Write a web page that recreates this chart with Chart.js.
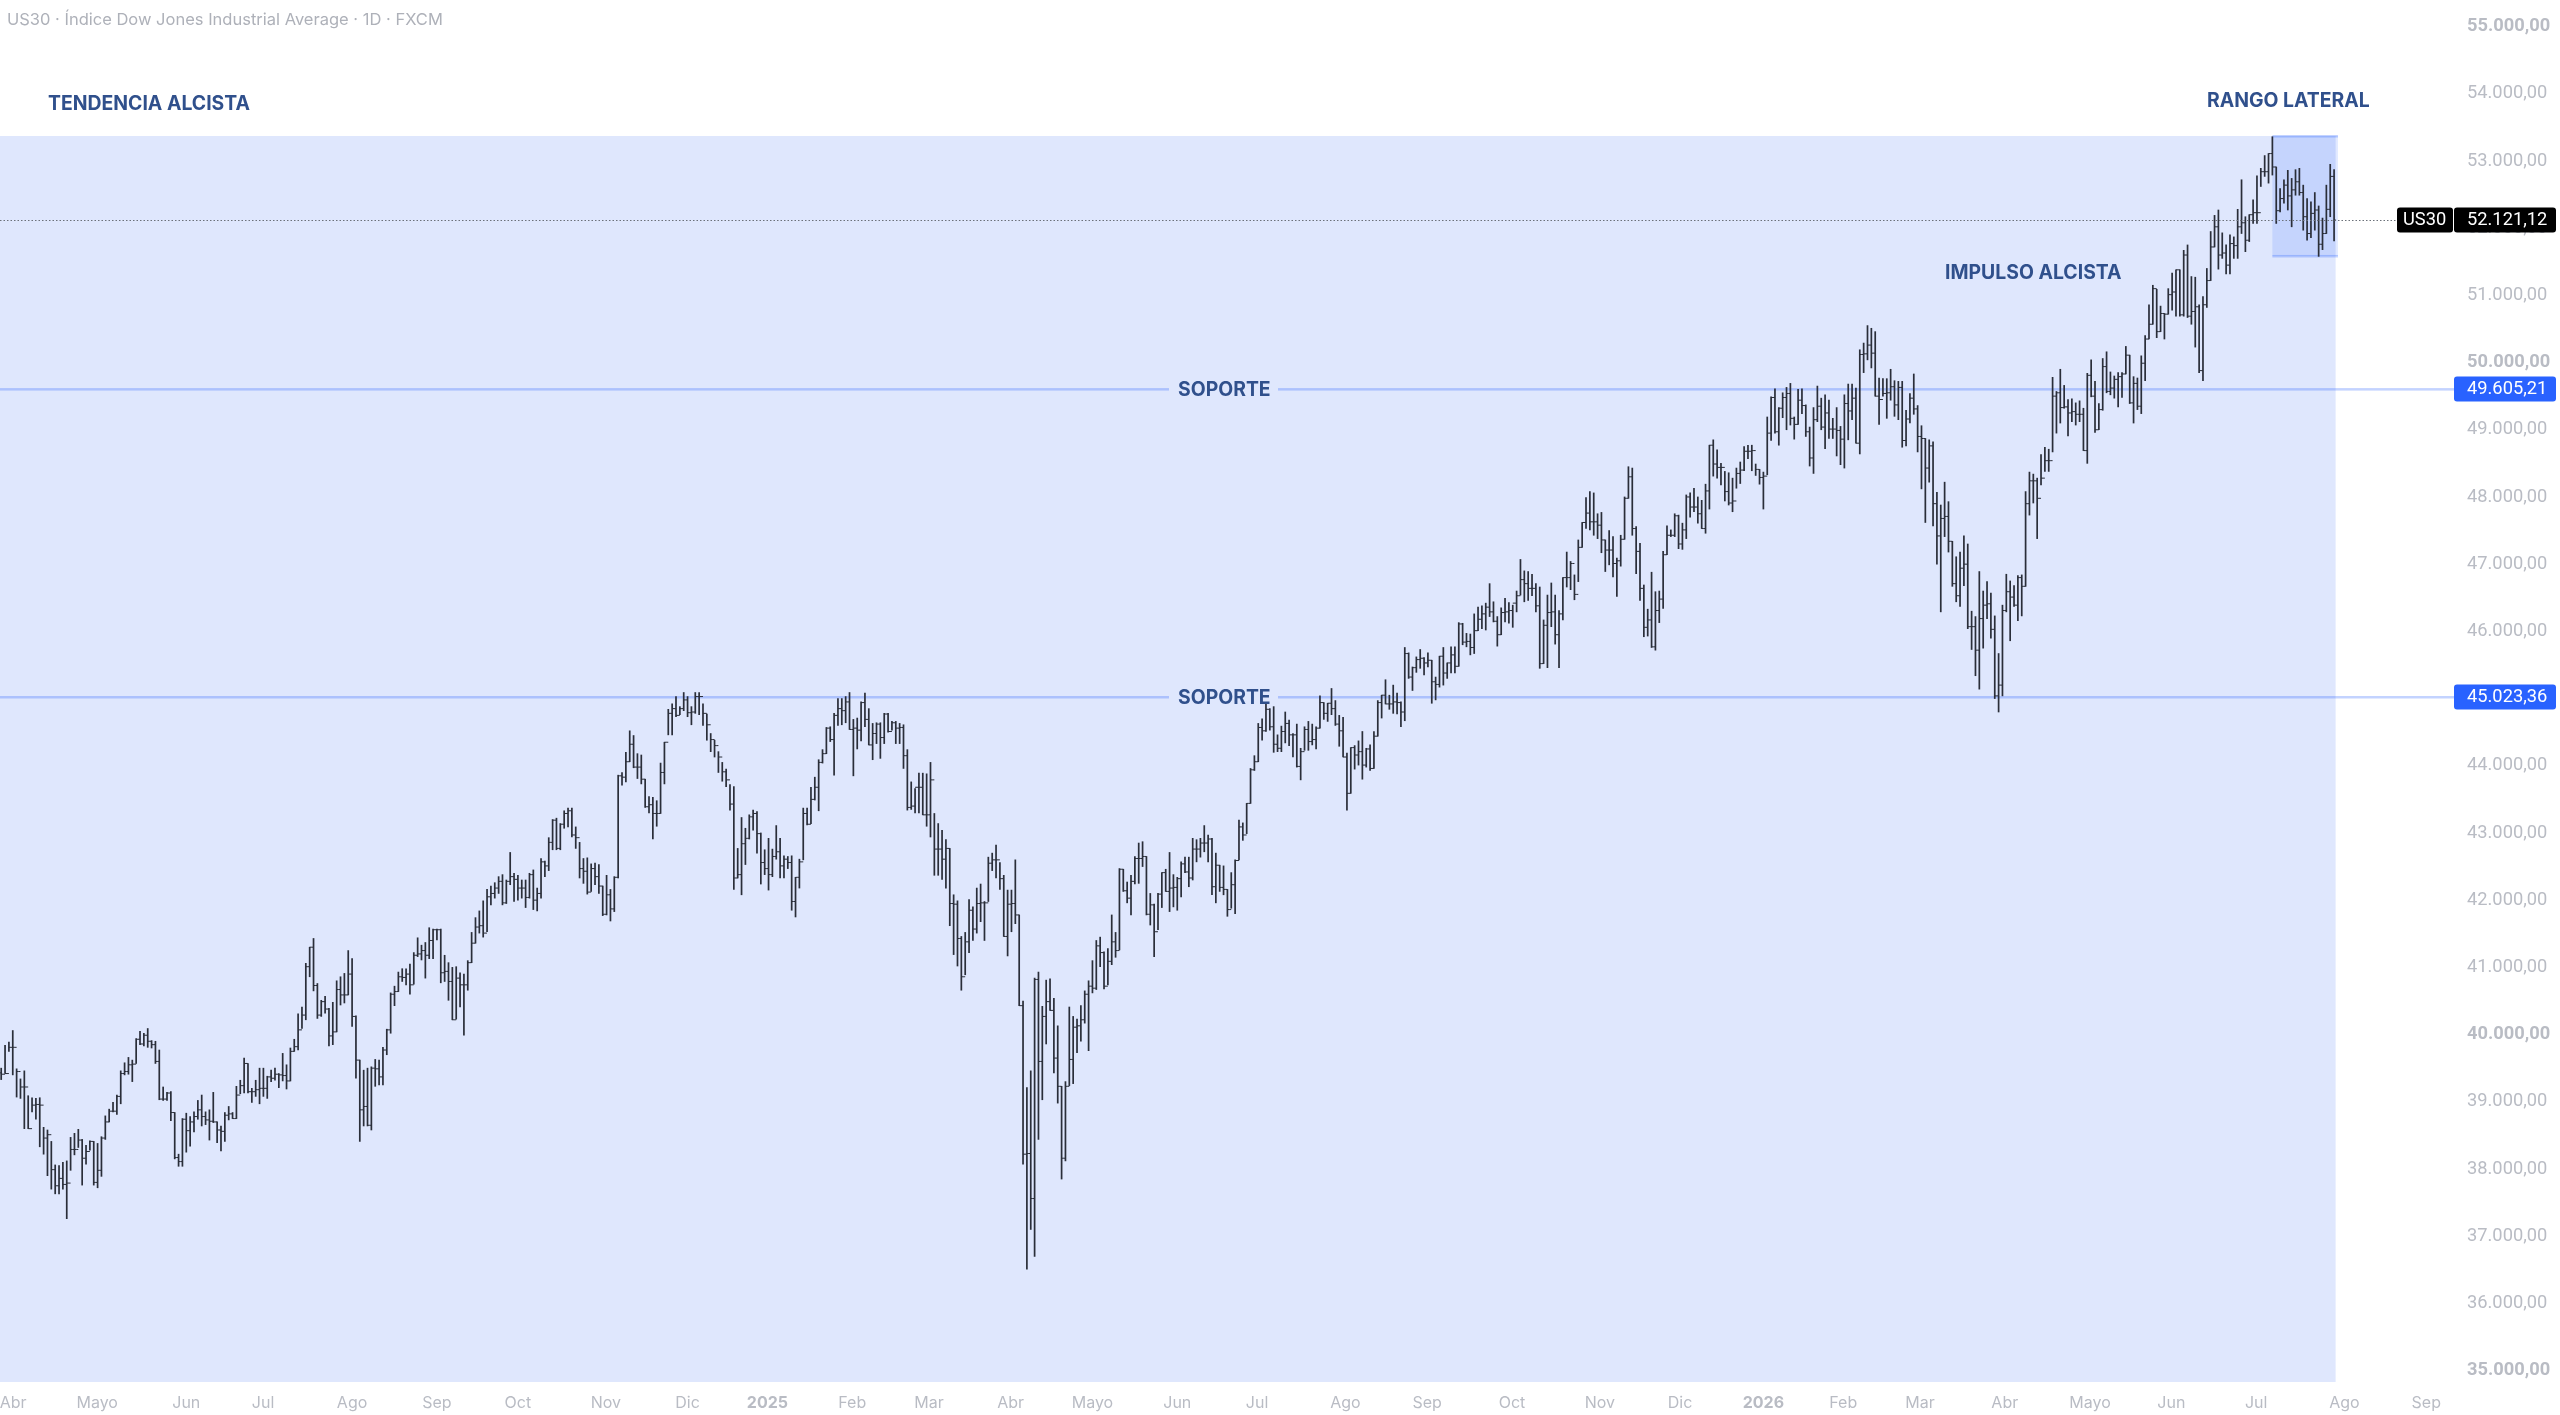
<!DOCTYPE html>
<html>
<head>
<meta charset="utf-8">
<title>US30</title>
<script src="https://cdn.jsdelivr.net/npm/chart.js@4"></script>
<style>
html, body { margin: 0; padding: 0; background: #fff; }
canvas { display: block; }
</style>
</head>
<body>
<canvas id="us30Chart" width="2560" height="1415"></canvas>
<script>
// daily bars
var highs = [
39500,39840,39890,40060,39490,39340,39460,39090,39060,39050,
39060,38620,38580,38410,38060,38050,38100,38120,38470,38530,
38590,38440,38350,38420,38410,38380,38480,38790,38890,38990,
39100,39460,39580,39660,39620,39940,40050,40020,40090,39910,
39900,39770,39220,39140,39150,38840,38220,38750,38830,38780,
38850,39020,39100,38850,38880,39140,38700,38640,38840,38930,
38840,39230,39320,39650,39570,39200,39320,39500,39500,39380,
39470,39500,39420,39720,39550,39800,39930,40310,40410,41060,
41300,41430,40760,40510,40570,40390,40480,40800,40860,40910,
41250,41130,40280,39620,39470,39500,39520,39630,39620,39810,
40080,40620,40720,40930,40980,40980,41050,41220,41440,41330,
41370,41590,41570,41570,41570,41180,41070,41000,41010,40920,
40900,41100,41520,41740,41840,41990,42160,42210,42260,42350,
42380,42300,42710,42400,42370,42300,42300,42400,42450,42180,
42620,42580,42930,43200,43220,43140,43330,43370,43370,43090,
42860,42620,42630,42540,42550,42530,42210,42370,42160,42350,
43860,43900,44200,44520,44450,44180,44160,43800,43540,43530,
43480,44040,44350,44840,44920,45030,44880,45090,45030,44880,
45090,45090,44920,44770,44480,44380,44210,44050,43950,43720,
43690,42770,43230,43070,43270,43340,43320,43000,42750,42920,
42760,43110,42920,42660,42650,42660,42340,42610,43370,43370,
43680,43830,44090,44240,44570,44580,44780,45000,45000,45030,
45090,44690,44710,44950,45080,44850,44630,44640,44640,44780,
44780,44660,44660,44630,44610,44240,43760,43660,43890,43890,
43880,44050,43290,43140,43040,42900,42770,42080,41990,41460,
41520,42010,41900,42180,42240,41980,42640,42700,42820,42560,
42370,42150,42150,42600,41780,40500,39210,39460,40840,40930,
40420,40810,40830,40540,40130,39230,39300,40410,40270,40230,
40430,40650,40800,41100,41400,41450,41230,41280,41780,41520,
42470,42460,42270,42370,42650,42850,42870,42650,42100,41940,
42100,42410,42460,42710,42380,42340,42570,42640,42640,42920,
42900,42920,43110,42970,42920,42700,42520,42510,42160,42410,
42600,43190,43150,43440,43960,44150,44630,44700,44920,44850,
44880,44460,44590,44800,44680,44480,44620,44260,44580,44660,
44620,44580,45040,44940,44930,45150,44970,44750,44720,44190,
44270,44300,44370,44510,44260,44310,44510,44970,45050,45280,
45050,45200,45080,44950,45760,45680,45470,45620,45730,45610,
45680,45570,45320,45630,45760,45530,45770,45770,46130,46120,
45970,45960,46260,46360,46380,46420,46710,46440,46220,46350,
46490,46430,46390,46600,47070,46900,46890,46850,46710,46660,
46170,46540,46720,46540,46310,46800,47180,47040,46840,47360,
47620,47990,48080,48060,47750,47770,47360,47500,47410,47090,
47430,48000,48450,48430,47560,47310,46690,46330,46880,46590,
46600,47190,47570,47510,47750,47730,47610,48030,48060,48130,
48000,47950,48190,48770,48850,48700,48500,48380,48360,48280,
48430,48520,48750,48770,48770,48490,48410,48370,49190,49490,
49610,49330,49550,49630,49690,49190,49600,49610,49370,49040,
49330,49650,49470,49520,49440,49170,49330,49050,49520,49680,
49680,49620,50190,50290,50550,50510,50460,49770,49760,49760,
49900,49730,49720,49720,49290,49540,49830,49360,49060,48870,
48850,48820,48070,47880,48220,47930,47340,47110,47180,47420,
47300,46300,46220,46890,46600,46740,46570,46230,45670,46390,
46850,46750,46680,46830,46840,48080,48370,48340,48280,48630,
48740,48710,49780,49570,49900,49660,49450,49460,49400,49430,
49320,49840,50040,49720,49390,50060,50160,49860,49800,49850,
49850,50240,50110,49790,49770,50100,50400,50860,51150,51090,
50840,50730,51100,51330,51380,51380,51670,51750,51280,51270,
50860,50980,51400,51950,52190,52270,51930,51750,51900,51870,
52280,52720,52170,52200,52420,52780,52890,53080,53110,53360,
52910,52590,52720,52860,52740,52870,52890,52640,52440,52390,
52530,52330,52150,52640,52950,52870
];
var lows = [
39330,39420,39750,39400,39070,39050,38600,38600,38850,38740,
38330,38220,37900,37700,37630,37630,37700,37260,37980,38210,
38320,37760,38070,38280,37760,37720,37890,38440,38700,38850,
38810,38970,39400,39410,39300,39570,39850,39830,39810,39800,
39570,39030,39020,39020,38720,38150,38040,38040,38250,38340,
38550,38740,38640,38660,38430,38690,38390,38270,38410,38730,
38750,38750,39120,39130,39130,38990,39080,38970,39080,39050,
39300,39320,39210,39310,39190,39310,39750,39770,40090,40220,
40860,40650,40240,40270,40320,39830,39850,40040,40440,40470,
40590,40120,39350,38410,38640,38640,38580,39230,39250,39250,
39700,40020,40430,40640,40790,40740,40600,40750,41160,41110,
40840,41130,41130,41410,40770,40790,40510,40220,40230,40410,
39990,40660,41070,41360,41510,41450,41530,41930,42030,42100,
41930,41950,42230,41980,42000,42030,41890,42030,41860,41840,
42030,42350,42440,42750,42750,42750,43070,43090,42940,42770,
42330,42250,42090,42130,42230,42100,41770,41780,41690,41830,
42330,43710,43760,44060,43970,43810,43730,43380,43300,42910,
43100,43290,43730,44460,44460,44730,44760,44820,44730,44610,
44780,44760,44600,44380,44210,44130,43900,43770,43690,43340,
42160,42330,42080,42530,42910,43040,42700,42240,42380,42150,
42350,42610,42330,42330,42470,41850,41750,42180,42600,43120,
43140,43490,43330,44040,44180,44360,43860,44600,44610,44640,
44540,43850,44250,44370,44580,44310,44090,44330,44110,44330,
44500,44530,44330,44330,43960,43340,43350,43300,43300,43270,
43100,42940,42370,42370,42310,42180,41620,41190,41020,40660,
40890,41220,41400,41510,41680,41400,41980,42440,42330,42160,
41460,41170,41530,41650,40430,38070,36510,37100,36700,38440,
39030,39860,40360,39430,38980,37850,38120,39240,39270,39730,
39900,40170,39760,40620,40670,41010,40680,40740,41040,41150,
41260,42130,41960,41780,42240,42250,42500,41780,41630,41160,
41560,41890,42130,41830,41900,41850,42050,42410,42200,42300,
42570,42640,42720,42570,42080,41960,42130,42080,41760,41880,
41800,42600,42890,42990,43440,43930,44060,44380,44510,44530,
44200,44210,44210,44340,44300,44130,43980,43790,44230,44230,
44310,44250,44560,44690,44660,44760,44600,44290,44130,43340,
43590,43950,44010,43800,43980,43930,43960,44440,44710,44920,
44840,44780,44770,44580,44670,45300,45120,45390,45450,45350,
45470,44930,44980,45170,45200,45300,45380,45380,45480,45800,
45770,45650,45670,46010,46040,46020,46220,46140,45780,45950,
46140,46120,46060,46290,46540,46440,46460,46530,46290,45450,
45520,45460,46070,45810,45460,46170,46660,46620,46470,46740,
47250,47530,47510,47430,47380,47170,46890,46990,46810,46520,
46970,47370,47980,47430,46860,46460,45920,45930,45760,45720,
46130,46340,47140,47410,47410,47230,47220,47380,47700,47780,
47610,47530,47460,47820,48310,48280,48180,47940,47880,47780,
48130,48200,48390,48570,48390,48320,48190,47820,48330,48840,
48950,48770,49180,49000,49070,48860,49080,49240,48900,48460,
48350,49120,49000,48720,48870,48870,48610,48480,48430,48850,
49150,48800,48640,49850,50040,49920,49500,49080,49500,49170,
49440,49200,49150,48740,48760,49100,49230,48670,48120,47620,
48220,47570,47000,46290,47410,47180,46670,46440,46370,46680,
46040,45730,45340,45140,45750,46190,45900,45000,44800,45040,
46290,45860,46370,46160,46230,46670,47730,47910,47380,48180,
48380,48380,48670,48950,49100,49320,48910,49120,49070,49120,
48690,48500,49490,48960,49000,49290,49550,49520,49470,49340,
49480,49830,49390,49100,49300,49240,49730,50350,50570,50370,
50460,50350,50720,50780,50690,50690,50690,50670,50570,50230,
49850,49730,50820,51220,51720,51390,51550,51320,51320,51550,
51550,51920,51650,51800,52070,52070,52620,52770,52670,52790,
52070,52240,52370,52270,52020,52490,52490,51970,51820,51860,
51970,51580,51680,51920,52170,51810
];
var closes = [
39410,39420,39810,39810,39450,39220,39220,38600,38950,38960,
38950,38460,38510,37990,37750,37860,37770,37790,38290,38290,
38430,38160,38260,38410,37800,37980,38460,38700,38860,38860,
39080,39420,39450,39550,39560,39930,39860,39990,39900,39850,
39600,39040,39040,39130,38840,38170,38110,38740,38570,38700,
38780,38880,38780,38730,38710,38700,38580,38560,38800,38820,
38750,39100,39240,39570,39150,39150,39180,39200,39200,39370,
39350,39410,39400,39390,39310,39750,39820,40070,40290,41010,
41300,40730,40290,40490,40380,39980,40040,40670,40590,40590,
40900,40270,39620,38880,38930,38650,39500,39490,39370,39770,
40070,40600,40640,40860,40850,40900,40740,41180,41200,41250,
41180,41400,41560,41560,40920,40940,40790,40220,40840,40740,
40740,41070,41360,41600,41620,41510,42050,42100,42180,42280,
41960,42280,42350,42310,42180,42180,42040,42380,42000,42100,
42570,42510,42860,43190,42770,43130,43290,43330,42970,42930,
42470,42430,42120,42470,42350,42210,41790,42080,41870,42340,
43850,43830,44060,44320,43980,43980,43800,43390,43420,43290,
43290,43900,44350,44780,44850,44750,44850,44980,44790,44800,
45030,45030,44780,44610,44390,44300,44130,43910,43790,43430,
42330,42380,42840,42920,43240,43290,42990,42560,42470,42380,
42650,42720,42510,42610,42560,41980,42340,42570,43290,43130,
43500,43680,44050,44180,44560,44390,44750,44850,44820,44950,
44540,44560,44530,44940,44690,44310,44480,44620,44420,44770,
44510,44640,44560,44570,44150,43380,43400,43680,43680,43270,
43270,43790,42760,42760,42610,42770,41950,41940,41430,40860,
41380,41850,41570,41950,41960,41960,42550,42600,42600,42320,
41460,41940,41950,41780,40430,38220,38230,37560,40820,39600,
40270,40490,40360,39650,39230,38160,39230,39630,40110,40130,
40220,40600,40720,40690,41320,41220,40720,41090,41380,41250,
42460,42140,42030,42280,42620,42620,42650,41790,41930,41530,
42090,42410,42130,42180,42190,42320,42540,42420,42330,42760,
42760,42850,42850,42910,42200,42520,42190,42160,41860,42230,
42590,43090,42970,43440,43940,44060,44570,44520,44840,44580,
44320,44260,44510,44630,44460,44460,43990,44210,44540,44360,
44390,44560,44940,44780,44930,44850,44620,44520,44130,43590,
44270,44160,44210,44010,44250,43960,44440,44940,45050,44920,
44920,44950,44940,44800,45670,45320,45460,45580,45600,45530,
45570,45250,45210,45630,45380,45530,45650,45480,46110,45840,
45850,45760,46010,46180,46260,46360,46290,46150,45950,46280,
46290,46310,46420,46530,46770,46710,46640,46640,46380,45520,
46090,46280,46290,45950,46260,46800,46800,47010,46550,47250,
47620,47760,47630,47630,47580,47360,47210,47210,47010,47050,
47370,47980,48300,47530,47190,46640,46060,46170,45770,46310,
46480,47140,47430,47430,47720,47300,47510,48000,47850,47850,
47750,47530,48090,48770,48490,48440,48440,48080,47910,47940,
48350,48400,48680,48680,48690,48410,48290,48310,48950,49480,
48970,49320,49480,49540,49170,49080,49440,49360,48970,48580,
49150,49350,49040,49250,49010,49010,48990,48860,49390,49280,
49470,48800,50120,50130,50260,50140,49500,49450,49540,49550,
49640,49370,49630,48840,49160,49470,49310,48900,48870,48430,
48760,47900,47420,47680,47710,47340,46710,46530,46940,47000,
46070,46070,45720,46190,46390,46410,46030,45040,45200,46310,
46590,46510,46390,46800,46670,47900,48240,48240,47980,48280,
48540,48540,49500,49550,49330,49340,49250,49270,49230,49230,
48690,49810,49500,49000,49300,49940,49570,49620,49750,49790,
49830,50110,49400,49690,49350,49990,50350,50570,51100,50460,
50730,50720,51010,51050,51380,50710,51600,50690,50760,50830,
49880,50860,51220,51720,52020,51600,51630,51450,51770,51740,
52020,52080,51820,52200,52230,52230,52840,52840,53110,52910,
52260,52440,52640,52480,52570,52690,52530,52170,51920,52220,
52270,51760,51920,52280,52770,52120
];
var opens = [
39430,39410,39420,39810,39810,39450,39220,39220,38600,38950,
38960,38950,38460,38510,37990,37750,37860,37770,37790,38290,
38290,38430,38160,38260,38410,37800,37980,38460,38700,38860,
38860,39080,39420,39450,39550,39560,39930,39860,39990,39900,
39850,39600,39040,39040,39130,38840,38170,38110,38740,38570,
38700,38780,38880,38780,38730,38710,38700,38580,38560,38800,
38820,38750,39100,39240,39570,39150,39150,39180,39200,39200,
39370,39350,39410,39400,39390,39310,39750,39820,40070,40290,
41010,41300,40730,40290,40490,40380,39980,40040,40670,40590,
40590,40900,40270,39620,38880,38930,38650,39500,39490,39370,
39770,40070,40600,40640,40860,40850,40900,40740,41180,41200,
41250,41180,41400,41560,41560,40920,40940,40790,40220,40840,
40740,40740,41070,41360,41600,41620,41510,42050,42100,42180,
42280,41960,42280,42350,42310,42180,42180,42040,42380,42000,
42100,42570,42510,42860,43190,42770,43130,43290,43330,42970,
42930,42470,42430,42120,42470,42350,42210,41790,42080,41870,
42340,43850,43830,44060,44320,43980,43980,43800,43390,43420,
43290,43290,43900,44350,44780,44850,44750,44850,44980,44790,
44800,45030,45030,44780,44610,44390,44300,44130,43910,43790,
43430,42330,42380,42840,42920,43240,43290,42990,42560,42470,
42380,42650,42720,42510,42610,42560,41980,42340,42570,43290,
43130,43500,43680,44050,44180,44560,44390,44750,44850,44820,
44950,44540,44560,44530,44940,44690,44310,44480,44620,44420,
44770,44510,44640,44560,44570,44150,43380,43400,43680,43680,
43270,43270,43790,42760,42760,42610,42770,41950,41940,41430,
40860,41380,41850,41570,41950,41960,41960,42550,42600,42600,
42320,41460,41940,41950,41780,40430,38220,38230,37560,40820,
39600,40270,40490,40360,39650,39230,38160,39230,39630,40110,
40130,40220,40600,40720,40690,41320,41220,40720,41090,41380,
41250,42460,42140,42030,42280,42620,42620,42650,41790,41930,
41530,42090,42410,42130,42180,42190,42320,42540,42420,42330,
42760,42760,42850,42850,42910,42200,42520,42190,42160,41860,
42230,42590,43090,42970,43440,43940,44060,44570,44520,44840,
44580,44320,44260,44510,44630,44460,44460,43990,44210,44540,
44360,44390,44560,44940,44780,44930,44850,44620,44520,44130,
43590,44270,44160,44210,44010,44250,43960,44440,44940,45050,
44920,44920,44950,44940,44800,45670,45320,45460,45580,45600,
45530,45570,45250,45210,45630,45380,45530,45650,45480,46110,
45840,45850,45760,46010,46180,46260,46360,46290,46150,45950,
46280,46290,46310,46420,46530,46770,46710,46640,46640,46380,
45520,46090,46280,46290,45950,46260,46800,46800,47010,46550,
47250,47620,47760,47630,47630,47580,47360,47210,47210,47010,
47050,47370,47980,48300,47530,47190,46640,46060,46170,45770,
46310,46480,47140,47430,47430,47720,47300,47510,48000,47850,
47850,47750,47530,48090,48770,48490,48440,48440,48080,47910,
47940,48350,48400,48680,48680,48690,48410,48290,48310,48950,
49480,48970,49320,49480,49540,49170,49080,49440,49360,48970,
48580,49150,49350,49040,49250,49010,49010,48990,48860,49390,
49280,49470,48800,50120,50130,50260,50140,49500,49450,49540,
49550,49640,49370,49630,48840,49160,49470,49310,48900,48870,
48430,48760,47900,47420,47680,47710,47340,46710,46530,46940,
47000,46070,46070,45720,46190,46390,46410,46030,45040,45200,
46310,46590,46510,46390,46800,46670,47900,48240,48240,47980,
48280,48540,48540,49500,49550,49330,49340,49250,49270,49230,
49230,48690,49810,49500,49000,49300,49940,49570,49620,49750,
49790,49830,50110,49400,49690,49350,49990,50350,50570,51100,
50460,50730,50720,51010,51050,51380,50710,51600,50690,50760,
50830,49880,50860,51220,51720,52020,51600,51630,51450,51770,
51740,52020,52080,51820,52200,52230,52230,52840,52840,53110,
52910,52260,52440,52640,52480,52570,52690,52530,52170,51920,
52220,52270,51760,51920,52280,52770
];

var monthLabels = ['Abr','Mayo','Jun','Jul','Ago','Sep','Oct','Nov','Dic','2025','Feb','Mar','Abr','Mayo','Jun','Jul','Ago','Sep','Oct','Nov','Dic','2026','Feb','Mar','Abr','Mayo','Jun','Jul','Ago','Sep'];
var monthBars = [3.1,24.9,48,67.9,91,113,134,156.8,178,198.7,220.7,240.6,261.8,283,305,325.7,348.6,369.8,391.8,414.6,435.4,457,477.7,497.6,519.6,541.7,562.8,584.8,607.7,628.9];
var priceTicks = [35000,36000,37000,38000,39000,40000,41000,42000,43000,44000,45000,46000,47000,48000,49000,50000,51000,52000,53000,54000,55000];

var supportLevels = [49605.21, 45023.36];
var lastPrice = 52121.12;
var rangeTop = 53371;
var rangeBottom = 51586;
var rangeStartBar = 589;
var rangeEndBar = 606;
var trendEndBar = 605.4;

var priceMin = 34830;
var priceMax = 55395;
var barMin = -0.31;
var barMax = 636.1;

var FONT = 'Inter, "Noto Sans", sans-serif';
var NUM_FONT = 'Roboto, Inter, sans-serif';
var NAVY = '#30508c';
var MUTED = '#b9bcc4';

function priceText(v) {
    var parts = v.toFixed(2).split('.');
    return parts[0].replace(/\B(?=(\d{3})+$)/g, '.') + ',' + parts[1];
}

function roundRect(c, x, y, w, h, r) {
    c.beginPath();
    c.roundRect(x, y, w, h, r);
    c.fill();
}

function hLabel(c, text, x, y) {
    c.fillStyle = NAVY;
    c.font = 'bold 19.4px ' + FONT;
    c.textAlign = 'left';
    c.textBaseline = 'middle';
    c.fillText(text, x, y + 1);
}

var backdrop = {
    id: 'backdrop',
    beforeDatasetsDraw: function(chart) {
        var c = chart.ctx, xs = chart.scales.x, ys = chart.scales.y, area = chart.chartArea;
        c.save();
        // trend zone
        c.fillStyle = '#dfe7fd';
        c.fillRect(0, ys.getPixelForValue(rangeTop), xs.getPixelForValue(trendEndBar), area.bottom - ys.getPixelForValue(rangeTop));
        // sideways box
        var bx = xs.getPixelForValue(rangeStartBar), bw = xs.getPixelForValue(rangeEndBar) - bx;
        var by = ys.getPixelForValue(rangeTop), bh = ys.getPixelForValue(rangeBottom) - by;
        c.fillStyle = 'rgba(41,98,255,0.14)';
        c.fillRect(bx, by, bw, bh);
        c.fillStyle = 'rgba(41,98,255,0.28)';
        c.fillRect(bx, by - 1, bw, 2.5);
        c.fillRect(bx, by + bh - 1, bw, 2.5);
        // support lines with a gap for their label
        supportLevels.forEach(function(level) {
            var y = ys.getPixelForValue(level);
            c.fillStyle = 'rgba(41,98,255,0.28)';
            c.fillRect(0, y - 1, 1169, 2.5);
            c.fillRect(1278, y - 1, area.right - 1278, 2.5);
        });
        c.restore();
    },
    afterDatasetsDraw: function(chart) {
        var c = chart.ctx, ys = chart.scales.y;
        c.save();
        // last price dotted line
        var ly = Math.round(ys.getPixelForValue(lastPrice)) + 0.5;
        c.strokeStyle = '#6b7079';
        c.lineWidth = 1;
        c.setLineDash([1.5, 2]);
        c.beginPath();
        c.moveTo(0, ly);
        c.lineTo(2397, ly);
        c.stroke();
        c.setLineDash([]);
        // texts
        supportLevels.forEach(function(level) {
            hLabel(c, 'SOPORTE', 1178, ys.getPixelForValue(level) + 0.5);
        });
        hLabel(c, 'TENDENCIA ALCISTA', 48, 103);
        hLabel(c, 'RANGO LATERAL', 2207, 100);
        hLabel(c, 'IMPULSO ALCISTA', 1945, 272.5);
        c.fillStyle = '#aeb1b9';
        c.font = '16.5px ' + FONT;
        c.textAlign = 'left';
        c.textBaseline = 'middle';
        c.fillText('US30 · Índice Dow Jones Industrial Average · 1D · FXCM', 7, 20);
        c.restore();
    },
    afterDraw: function(chart) {
        var c = chart.ctx, ys = chart.scales.y;
        c.save();
        c.font = '18.3px ' + NUM_FONT;
        c.textBaseline = 'middle';
        c.textAlign = 'left';
        // price tags on the axis
        supportLevels.forEach(function(level) {
            var y = ys.getPixelForValue(level);
            c.fillStyle = '#2962ff';
            roundRect(c, 2454, y - 12.5, 102, 25, 3);
            c.fillStyle = '#fff';
            c.fillText(priceText(level), 2467, y);
        });
        var ly = ys.getPixelForValue(lastPrice);
        c.fillStyle = '#000';
        roundRect(c, 2397, ly - 12.5, 56, 25, 3);
        roundRect(c, 2454, ly - 12.5, 102, 25, 3);
        c.fillStyle = '#fff';
        c.fillText('US30', 2403, ly);
        c.fillText(priceText(lastPrice), 2467, ly);
        c.restore();
    }
};

var ranges = highs.map(function(h, i) { return { x: i, y: [lows[i], h] }; });
var openTicks = opens.map(function(v, i) { return { x: i - 0.26, y: v }; });
var closeTicks = closes.map(function(v, i) { return { x: i + 0.26, y: v }; });

var tickStyle = {
    type: 'scatter',
    showLine: false,
    pointStyle: 'line',
    pointRadius: 1,
    pointBorderColor: '#2a2e39',
    pointBorderWidth: 1
};

new Chart(document.getElementById('us30Chart'), {
    type: 'bar',
    data: {
        datasets: [
            { label: 'High-Low', data: ranges, backgroundColor: '#2a2e39', barThickness: 1.05, grouped: false },
            Object.assign({ label: 'Open', data: openTicks }, tickStyle),
            Object.assign({ label: 'Close', data: closeTicks }, tickStyle)
        ]
    },
    options: {
        responsive: false,
        animation: false,
        layout: { padding: 0, autoPadding: false },
        plugins: {
            legend: { display: false },
            tooltip: { enabled: false }
        },
        scales: {
            x: {
                type: 'linear',
                offset: false,
                min: barMin,
                max: barMax,
                grid: { display: false, drawTicks: false },
                border: { display: false },
                afterBuildTicks: function(scale) {
                    scale.ticks = monthBars.map(function(v) { return { value: v }; });
                },
                afterFit: function(scale) {
                    scale.height = 33;
                    scale.paddingLeft = 0;
                    scale.paddingRight = 0;
                },
                ticks: {
                    autoSkip: false,
                    maxRotation: 0,
                    padding: 12,
                    color: MUTED,
                    font: function(ctx) {
                        var i = monthBars.indexOf(ctx.tick && ctx.tick.value);
                        var bold = i >= 0 && /^\d+$/.test(monthLabels[i]);
                        return { family: FONT, size: 16, weight: bold ? 'bold' : 'normal' };
                    },
                    callback: function(value) {
                        return monthLabels[monthBars.indexOf(value)];
                    }
                }
            },
            y: {
                position: 'right',
                min: priceMin,
                max: priceMax,
                grid: { display: false, drawTicks: false },
                border: { display: false },
                afterBuildTicks: function(scale) {
                    scale.ticks = priceTicks.map(function(v) { return { value: v }; });
                },
                afterFit: function(scale) {
                    scale.width = 106;
                    scale.paddingTop = 0;
                    scale.paddingBottom = 0;
                },
                ticks: {
                    autoSkip: false,
                    crossAlign: 'near',
                    padding: 13,
                    color: MUTED,
                    font: function(ctx) {
                        var bold = ctx.tick && ctx.tick.value % 5000 === 0;
                        return { family: NUM_FONT, size: 18.3, weight: bold ? 'bold' : 'normal' };
                    },
                    callback: function(value) {
                        return priceText(value);
                    }
                }
            }
        }
    },
    plugins: [backdrop]
});
</script>
</body>
</html>
